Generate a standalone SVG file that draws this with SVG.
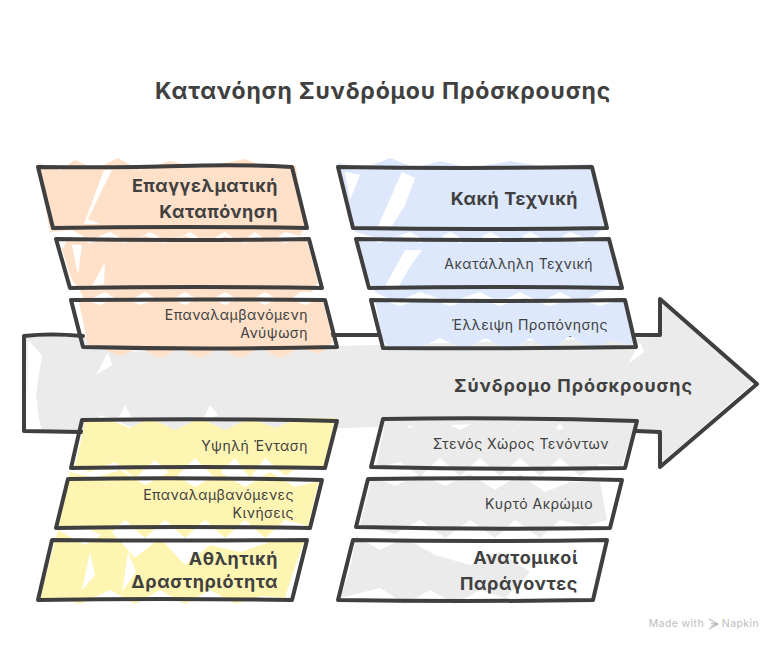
<svg xmlns="http://www.w3.org/2000/svg" width="780" height="648" viewBox="0 0 780 648">
<style>
.o{fill:none;stroke:#3f3f3f;stroke-width:4;stroke-linejoin:round;stroke-linecap:round}
.org{fill:#ffe0c9}.blu{fill:#dde8fd}.yel{fill:#fff5b3}.gry{fill:#ebebeb}.w{fill:#fff}
text{font-family:Inter,"Noto Sans",sans-serif;fill:#404040;text-anchor:end}
.t{font-size:23px;font-weight:700;letter-spacing:.8px}
.h{font-size:18px;font-weight:700;letter-spacing:.55px}
.s{font-size:14px;letter-spacing:.45px}
</style>
<g id="connectors">
<g id="spine">
<path class="gry" d="M26 337L110 337L118 352L660 337L662 304L700 335L745 375L752 384L720 412L662 462L655 430L625 436L600 424L575 440L560 424L540 440L520 424L500 440L480 424L150 434L100 415L90 432L42 432L36 405L28 410Z"/>
<path class="w" d="M42 355L28 340L28 420L40 428L36 395ZM108 352L96 375L112 365ZM125 405L115 425L132 418ZM210 405L200 425L218 415ZM640 342L628 364L644 352Z"/>
<path class="o" d="M83 336Q50 333 24 336L24 431L82 432M325 335L660 335L660 299L757 384L660 467L660 432L636 431"/>
</g>
</g>
<g id="node-1">
<path class="org" d="M38 163L60 170L75 160L95 169L118 158L140 170L170 161L200 168L245 159L268 168L296 166L300 200L305 226L300 236L285 232L270 243L255 232L240 243L225 232L205 243L190 232L170 243L150 232L130 243L110 232L90 240L72 230L50 232L42 190Z"/>
<path class="w" d="M112 170L104 170L84 224L100 224L88 219ZM50 210L44 180L54 226Z"/>
<text class="h" x="278" y="192">Επαγγελματική</text><text class="h" x="278" y="218">Καταπόνηση</text>
<path class="o" d="M38 167Q120 168 180 166T292 167L307 228Q180 226 53 228Z"/>
</g>
<g id="node-2">
<path class="org" d="M68 237L90 243L108 237L125 243L145 236L165 243L185 236L205 243L225 236L245 243L265 236L285 243L306 237L318 282L312 292L300 292L285 304L265 292L245 304L225 292L205 304L185 292L165 304L145 292L125 304L105 292L85 302L80 290L72 280L62 250Z"/>
<path class="w" d="M82 245L72 245L78 275ZM105 262L92 286L104 284Z"/>
<path class="o" d="M56 239Q180 241 309 239L322 288Q200 286 70 288Z"/>
</g>
<g id="node-3">
<path class="org" d="M78 298L100 305L120 296L140 305L165 296L185 305L205 296L225 305L245 296L265 305L285 296L305 305L322 298L333 342L320 354L300 348L280 358L260 348L240 358L220 348L200 358L180 348L160 358L140 348L120 356L100 348L88 345Z"/>
<text class="s" x="308" y="320">Επαναλαμβανόμενη</text><text class="s" x="308" y="338">Ανύψωση</text>
<path class="o" d="M71 300Q200 299 325 300L337 347Q210 350 83 347Z"/>
</g>
<g id="node-4">
<path class="blu" d="M338 163L365 168L390 158L415 168L440 161L470 168L510 161L540 166L592 164L600 200L605 226L590 240L570 232L550 243L530 232L510 243L490 232L470 243L450 232L430 243L410 232L385 240L355 232L345 195Z"/>
<path class="w" d="M415 178L402 172L378 226L392 226L405 205ZM345 172L350 200L360 175Z"/>
<text class="h" x="578" y="205">Κακή Τεχνική</text>
<path class="o" d="M338 167Q460 169 592 167L607 228Q480 230 353 228Z"/>
</g>
<g id="node-5">
<path class="blu" d="M358 236L380 243L400 236L420 243L440 236L460 243L480 236L500 243L520 236L540 243L560 236L580 243L607 238L620 286L600 292L580 302L560 292L540 302L520 292L500 302L480 292L450 302L420 292L395 302L375 292L362 265Z"/>
<path class="w" d="M422 250L405 250L384 288L398 288L408 270Z"/>
<text class="s" x="593" y="269">Ακατάλληλη Τεχνική</text>
<path class="o" d="M356 239Q480 241 609 239L622 288Q500 286 369 288Z"/>
</g>
<g id="node-6">
<path class="blu" d="M375 298L400 306L425 298L450 306L475 298L500 306L525 298L550 306L575 298L600 306L626 298L634 346L610 340L595 350L570 336L550 350L530 338L510 350L485 338L465 350L440 338L415 350L390 348L382 340Z"/>
<text class="s" x="608" y="330">Έλλειψη Προπόνησης</text>
<path class="o" d="M371 300Q500 302 625 300L636 347Q510 349 383 348Z"/>
</g>
<g id="node-7">
<path class="yel" d="M86 418L110 420L130 428L150 418L175 430L200 418L225 430L250 418L275 428L300 418L335 418L324 466L300 466L285 476L265 458L250 478L235 458L215 478L195 458L175 478L155 460L135 478L115 462L90 472L75 466Z"/>
<text class="s" x="308" y="451">Υψηλή Ένταση</text>
<path class="o" d="M82 420Q210 418 337 421L325 468Q200 466 71 468Z"/>
</g>
<g id="node-8">
<path class="yel" d="M70 472L95 478L120 470L145 485L170 472L195 487L220 472L245 487L270 472L295 487L319 481L308 526L285 520L265 538L245 520L225 538L205 520L185 538L165 520L145 538L125 520L105 538L85 526L59 526Z"/>
<text class="s" x="294" y="500">Επαναλαμβανόμενες</text><text class="s" x="294" y="518">Κινήσεις</text>
<path class="o" d="M68 479Q190 477 322 480L310 528Q180 526 56 528Z"/>
</g>
<g id="node-9">
<path class="yel" d="M58 530L85 545L110 530L135 558L160 538L185 565L210 545L240 552L270 542L304 542L292 576L285 598L262 596L235 604L210 590L185 604L160 590L135 604L110 590L80 604L60 598L40 598Z"/>
<path class="w" d="M90 552L82 590L95 575ZM128 552L122 592L136 572Z"/>
<text class="h" x="278" y="565">Αθλητική</text><text class="h" x="278" y="588">Δραστηριότητα</text>
<path class="o" d="M52 540Q180 541 307 540L292 600Q160 598 38 600Z"/>
</g>
<g id="node-10">
<path class="gry" d="M386 417L410 428L435 417L460 430L485 417L510 430L535 417L560 430L585 417L610 428L636 418L622 466L600 464L580 476L560 458L540 476L520 458L500 476L480 458L460 476L440 458L420 476L400 462L376 468Z"/>
<text class="s" x="609" y="449">Στενός Χώρος Τενόντων</text>
<path class="o" d="M383 419Q510 417 637 421L625 468Q500 470 371 467Z"/>
</g>
<g id="node-11">
<path class="gry" d="M372 476L395 486L420 474L445 486L470 474L495 490L520 474L545 492L570 482L600 482L607 520L585 526L560 520L540 538L515 520L495 538L470 520L445 538L420 520L395 534L360 525Z"/>
<text class="s" x="593" y="509">Κυρτό Ακρώμιο</text>
<path class="o" d="M368 479Q490 477 622 480L610 528Q480 530 356 527Z"/>
</g>
<g id="node-12">
<path class="gry" d="M356 536L380 550L405 538L435 555L470 565L500 552L530 572L505 598L480 590L455 604L430 590L405 604L380 588L340 598L350 570Z"/>
<text class="h" x="578" y="564">Ανατομικοί</text><text class="h" x="578" y="590">Παράγοντες</text>
<path class="o" d="M353 540Q480 542 607 540L593 600Q460 602 338 600Z"/>
</g>
<text id="title" class="t" x="611" y="99">Κατανόηση Συνδρόμου Πρόσκρουσης</text>
<text class="h" x="693" y="392" style="letter-spacing:.95px">Σύνδρομο Πρόσκρουσης</text>
<g id="credit">
<text x="704" y="627" style="font-size:10.5px;fill:#bdbdbd;letter-spacing:.4px">Made with</text>
<path d="M709 619L718 624L709 629M711 623L716 624L711 626" fill="none" stroke="#bdbdbd" stroke-width="1.2"/>
<text x="759" y="627" style="font-size:10.5px;fill:#bdbdbd;letter-spacing:.4px">Napkin</text>
</g>
</svg>
